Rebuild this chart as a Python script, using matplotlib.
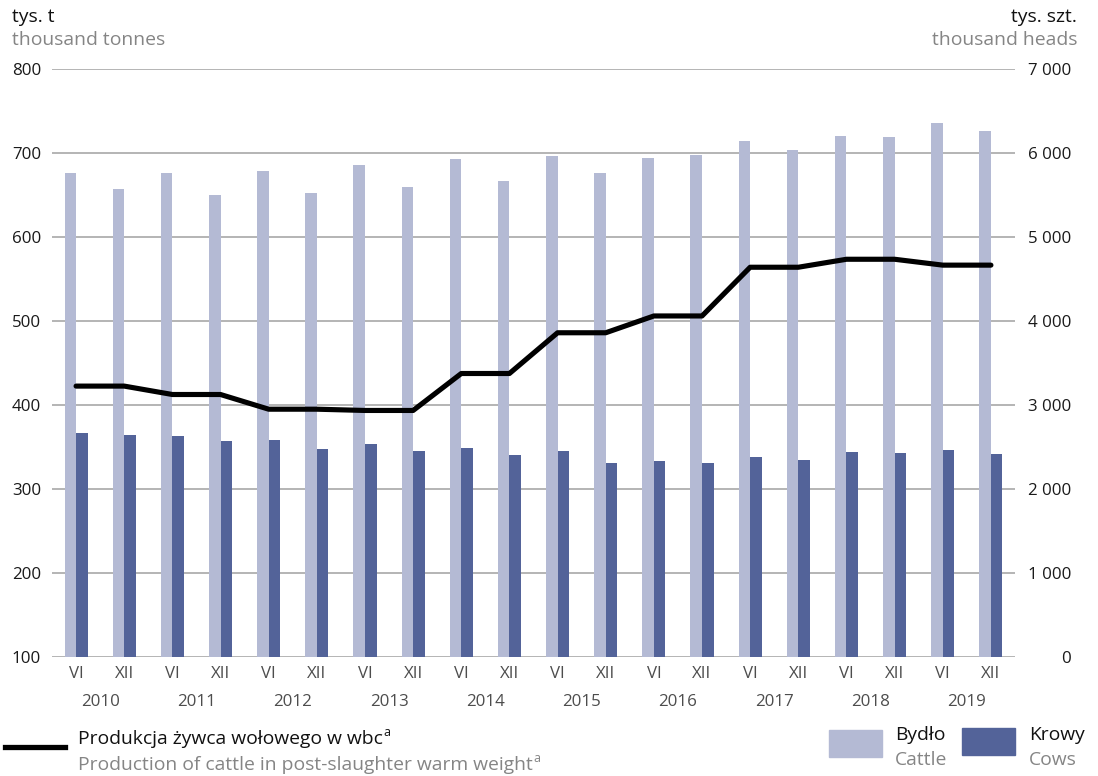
import matplotlib
matplotlib.use("Agg")
import matplotlib.pyplot as plt
from matplotlib.lines import Line2D
from matplotlib.patches import Rectangle
import numpy as np

plt.rcParams['font.family'] = ['Open Sans', 'DejaVu Sans']

# ---- data ----
periods = ["VI", "XII"] * 10
years = ["2010", "2011", "2012", "2013", "2014", "2015", "2016", "2017", "2018", "2019"]
cattle = [5760, 5570, 5760, 5500, 5785, 5525, 5855, 5595, 5930, 5665,
          5965, 5760, 5940, 5975, 6145, 6035, 6200, 6190, 6355, 6260]
cows = [2665, 2645, 2630, 2570, 2585, 2475, 2535, 2450, 2490, 2405,
        2450, 2310, 2335, 2310, 2380, 2345, 2440, 2430, 2465, 2415]
production = [422.5, 422.5, 412.5, 412.5, 395, 395, 393.5, 393.5, 437.5, 437.5,
              486, 486, 506, 506, 564, 564, 573.5, 573.5, 566.5, 566.5]
left_ticks = [100, 200, 300, 400, 500, 600, 700, 800]
right_ticks = [0, 1000, 2000, 3000, 4000, 5000, 6000, 7000]

C_CATTLE = "#b4bad4"
C_COWS = "#536399"
GRAY_TXT = "#858585"
GRID = "#a8a8a8"
TICK_FS = 12.2
TXT_FS = 13.9

W, H = 1098, 776
fig = plt.figure(figsize=(W / 100, H / 100), dpi=100)
ax = fig.add_axes([52 / W, 1 - 657 / H, (1015 - 52) / W, (657 - 69) / H])
ax2 = ax.twinx()

x = np.arange(len(periods))
bw = 0.24

# bars on right axis (behind)
ax2.bar(x - bw / 2, cattle, width=bw, color=C_CATTLE, zorder=2)
ax2.bar(x + bw / 2, cows, width=bw, color=C_COWS, zorder=2)
ax2.set_ylim(0, 7000)
ax2.set_yticks(right_ticks)
ax2.set_yticklabels([f"{v:,}".replace(",", " ") for v in right_ticks])
ax2.grid(axis='y', color=GRID, lw=1.2, zorder=0)
ax2.set_axisbelow(True)
ax2.tick_params(axis='y', length=0, pad=40.5, labelsize=TICK_FS, labelcolor="#1a1a1a")
for lab in ax2.get_yticklabels():
    lab.set_horizontalalignment('right')

# line on left axis (front)
ax.set_zorder(ax2.get_zorder() + 1)
ax.patch.set_visible(False)
ax.plot(x, production, color="black", lw=3.7, solid_joinstyle='round',
        solid_capstyle='round', zorder=5)
ax.set_ylim(100, 800)
ax.set_yticks(left_ticks)
ax.tick_params(axis='y', length=0, pad=8, labelsize=TICK_FS, labelcolor="#1a1a1a")
ax.set_xlim(-0.5, len(periods) - 0.5)
ax.set_xticks(x)
ax.set_xticklabels(periods)
ax.set_xticks(np.arange(len(years)) * 2 + 0.5, minor=True)
ax.set_xticklabels(years, minor=True)
ax.tick_params(axis='x', which='major', length=0, pad=6.5, labelsize=TICK_FS, labelcolor="#4d4d4d")
ax.tick_params(axis='x', which='minor', length=0, pad=26.5, labelsize=TICK_FS, labelcolor="#4d4d4d")

for a in (ax, ax2):
    for s in a.spines.values():
        s.set_visible(False)
ax2.tick_params(axis='x', length=0)

# headers
fig.text(12 / W, 1 - 21.5 / H, "tys. t", fontsize=TXT_FS, color="#111111", ha='left', va='baseline')
fig.text(12 / W, 1 - 45 / H, "thousand tonnes", fontsize=TXT_FS, color=GRAY_TXT, ha='left', va='baseline')
fig.text(1077 / W, 1 - 21.5 / H, "tys. szt.", fontsize=TXT_FS, color="#111111", ha='right', va='baseline')
fig.text(1077 / W, 1 - 45 / H, "thousand heads", fontsize=TXT_FS, color=GRAY_TXT, ha='right', va='baseline')

# legend: line
fig.add_artist(Line2D([5 / W, 65 / W], [1 - 746.5 / H, 1 - 746.5 / H], color="black", lw=3.8,
                      transform=fig.transFigure))
renderer = fig.canvas.get_renderer()
t1 = fig.text(78 / W, 1 - 744 / H, "Produkcja żywca wołowego w wbc", fontsize=TXT_FS,
              color="#111111", ha='left', va='baseline')
t2 = fig.text(78 / W, 1 - 770 / H, "Production of cattle in post-slaughter warm weight",
              fontsize=TXT_FS, color=GRAY_TXT, ha='left', va='baseline')
for t, base, col in ((t1, 744, "#111111"), (t2, 770, GRAY_TXT)):
    bb = t.get_window_extent(renderer=renderer)
    fig.text((bb.x1 + 1) / W, 1 - (base - 8) / H, "a", fontsize=9, color=col,
             ha='left', va='baseline')

# legend: patches
fig.add_artist(Rectangle((829 / W, 1 - 757 / H), 53 / W, 27 / H, color=C_CATTLE,
                         transform=fig.transFigure))
fig.add_artist(Rectangle((962 / W, 1 - 755 / H), 53 / W, 27 / H, color=C_COWS,
                         transform=fig.transFigure))
fig.text(895 / W, 1 - 740 / H, "Bydło", fontsize=TXT_FS, color="#111111", ha='left', va='baseline')
fig.text(895 / W, 1 - 765 / H, "Cattle", fontsize=TXT_FS, color=GRAY_TXT, ha='left', va='baseline')
fig.text(1029 / W, 1 - 740 / H, "Krowy", fontsize=TXT_FS, color="#111111", ha='left', va='baseline')
fig.text(1029 / W, 1 - 765 / H, "Cows", fontsize=TXT_FS, color=GRAY_TXT, ha='left', va='baseline')

fig.savefig("out.png", dpi=100)
